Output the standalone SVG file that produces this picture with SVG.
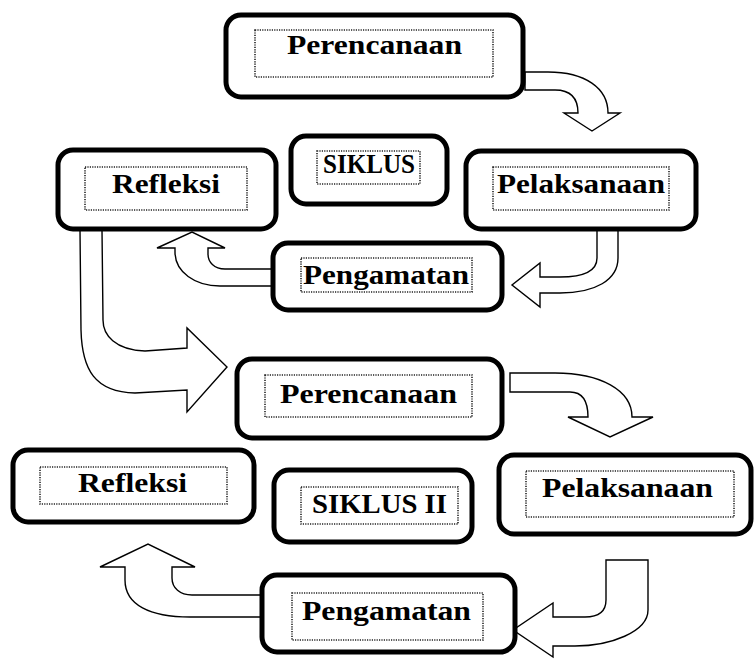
<svg xmlns="http://www.w3.org/2000/svg" width="755" height="659" viewBox="0 0 755 659">
<style>
.box{fill:#fff;stroke:#000;stroke-width:5}
.inner{fill:none;stroke:#222;stroke-width:1.6;stroke-dasharray:1.2 1.2}
.lbl{font-family:"Liberation Serif","Times New Roman",serif;font-weight:bold;font-size:28px;fill:#000}
.arr{fill:#fff;stroke:#000;stroke-width:1.4;stroke-linejoin:miter}
</style>
<rect width="755" height="659" fill="#fff"/>
<g id="connectors">
<path class="arr" d="M525,72 L548,72 C585,72 608,88 608,113 L620,113 L592,131 L564,113 L578,113 C578,98 570,90 555,90 L525,90 Z"/>
<path class="arr" d="M597,230 L597,258 C597,270 585,277 560,277 L540,277 L540,263 L512,285 L540,307 L540,293 L560,293 C595,293 618,280 618,258 L618,230 Z"/>
<path class="arr" d="M273,269 L225,269 C214,269 208,262 208,254 L208,248 L225,248 L192,232 L157,248 L175,248 L175,252 C175,272 195,286 220,286 L273,286 Z"/>
<path class="arr" d="M80,230 L81,330 C82,370 95,392 135,393 L187,390 L187,412 L227,367 L187,328 L187,348 L145,351 C115,350 103,335 103,320 L102,230 Z"/>
<path class="arr" d="M510,373 L555,373 C600,373 632,390 632,417 L653,417 L610,437 L568,417 L588,417 C588,400 582,392 570,392 L510,392 Z"/>
<path class="arr" d="M606,560 L648,560 L648,610 C648,632 610,646 575,646 L553,646 L553,657 L513,630 L553,603 L553,617 L585,617 C600,617 606,610 606,600 Z"/>
<path class="arr" d="M262,595 L192,595 C180,595 172,588 172,578 L172,567 L195,567 L148,544 L100,567 L125,567 L125,580 C125,605 150,617 190,617 L262,617 Z"/>
</g>
<g id="perencanaan1">
<rect class="box" x="226" y="15" width="297" height="82" rx="15"/>
<rect class="inner" x="255" y="30" width="238" height="47"/>
<text class="lbl" x="287" y="54" textLength="175" lengthAdjust="spacingAndGlyphs">Perencanaan</text>
</g>
<g id="siklus1">
<rect class="box" x="291" y="136" width="156" height="68" rx="15"/>
<rect class="inner" x="317" y="151" width="103" height="33"/>
<text class="lbl" x="323" y="173" textLength="92" lengthAdjust="spacingAndGlyphs">SIKLUS</text>
</g>
<g id="refleksi1">
<rect class="box" x="58" y="150" width="218" height="79" rx="15"/>
<rect class="inner" x="85" y="167" width="162" height="43"/>
<text class="lbl" x="112" y="193" textLength="108" lengthAdjust="spacingAndGlyphs">Refleksi</text>
</g>
<g id="pelaksanaan1">
<rect class="box" x="466" y="151" width="230" height="78" rx="15"/>
<rect class="inner" x="493" y="167" width="176" height="43"/>
<text class="lbl" x="497" y="193" textLength="168" lengthAdjust="spacingAndGlyphs">Pelaksanaan</text>
</g>
<g id="pengamatan1">
<rect class="box" x="273" y="243" width="229" height="67" rx="15"/>
<rect class="inner" x="301" y="258" width="171" height="34"/>
<text class="lbl" x="303" y="284" textLength="166" lengthAdjust="spacingAndGlyphs">Pengamatan</text>
</g>
<g id="perencanaan2">
<rect class="box" x="237" y="359" width="265" height="79" rx="15"/>
<rect class="inner" x="265" y="375" width="207" height="42"/>
<text class="lbl" x="280" y="403" textLength="177" lengthAdjust="spacingAndGlyphs">Perencanaan</text>
</g>
<g id="pelaksanaan2">
<rect class="box" x="499" y="455" width="252" height="79" rx="15"/>
<rect class="inner" x="526" y="471" width="208" height="46"/>
<text class="lbl" x="542" y="497" textLength="171" lengthAdjust="spacingAndGlyphs">Pelaksanaan</text>
</g>
<g id="refleksi2">
<rect class="box" x="13" y="450" width="241" height="72" rx="15"/>
<rect class="inner" x="40" y="467" width="187" height="37"/>
<text class="lbl" x="78" y="492" textLength="109" lengthAdjust="spacingAndGlyphs">Refleksi</text>
</g>
<g id="siklus2">
<rect class="box" x="274" y="470" width="198" height="72" rx="15"/>
<rect class="inner" x="301" y="487" width="157" height="37"/>
<text class="lbl" x="312" y="513" textLength="135" lengthAdjust="spacingAndGlyphs">SIKLUS II</text>
</g>
<g id="pengamatan2">
<rect class="box" x="262" y="575" width="253" height="77" rx="15"/>
<rect class="inner" x="292" y="593" width="191" height="47"/>
<text class="lbl" x="302" y="620" textLength="169" lengthAdjust="spacingAndGlyphs">Pengamatan</text>
</g>
</svg>
